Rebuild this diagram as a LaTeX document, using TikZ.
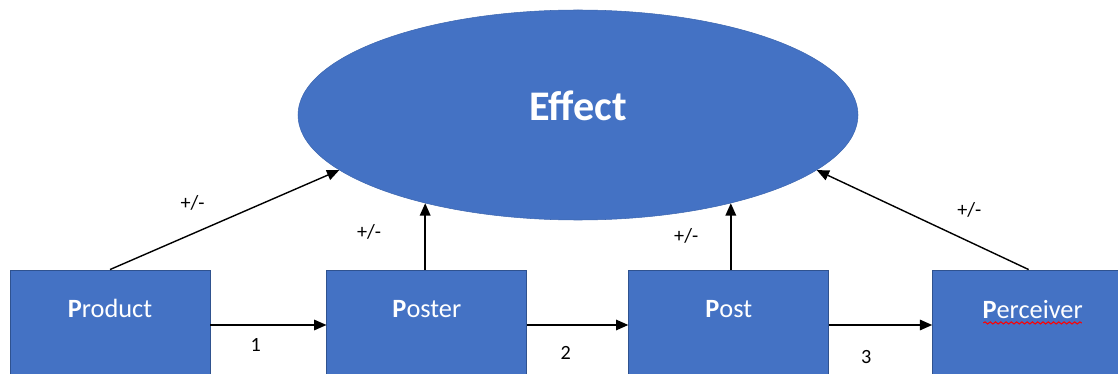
\documentclass[tikz,border=0pt]{standalone}
\usepackage{fontspec}
\setmainfont{Carlito}
\usepackage{tikz}
\usetikzlibrary{arrows.meta,positioning,shapes.geometric,decorations.pathmorphing}
\usepackage{xcolor}
\definecolor{officeblue}{HTML}{4472C4}
\definecolor{officeedge}{HTML}{2F528F}

\begin{document}
\begin{tikzpicture}[
	pbox/.style={rectangle,draw=officeedge,line width=0.5pt,fill=officeblue,minimum width=4cm,minimum height=2.2cm,inner sep=0pt},
	ptext/.style={text=white,font=\fontsize{15}{18}\selectfont},
	link/.style={-{Triangle[length=7pt,width=6pt]},line width=0.8pt},
	sign/.style={font=\fontsize{11.5}{14}\selectfont}
	]
	\useasboundingbox (0,0) rectangle (22.36,-7.48);

	\node[ellipse,draw=officeblue!90!black,line width=0.3pt,fill=officeblue,minimum width=11.2cm,minimum height=4.2cm,inner sep=0pt,text depth=11pt,text=white,font=\fontsize{24}{28}\selectfont\bfseries] (eff) at (11.56,-2.3) {Effect};

	\begin{scope}
		\node[pbox] (prod) at (2.2,-6.5) {};
		\node[pbox,right=2.32cm of prod] (poster) {};
		\node[pbox,right=2.02cm of poster] (post) {};
		\node[pbox,right=2.06cm of post] (perc) {};

		\node[ptext] (prodtxt) at ([yshift=-0.78cm]prod.north) {\textbf{P}roduct};
		\node[ptext] (postertxt) at ([yshift=-0.78cm]poster.north) {\textbf{P}oster};
		\node[ptext] (posttxt) at ([yshift=-0.78cm]post.north) {\textbf{P}ost};
		\node[ptext] (perctxt) at ([yshift=-0.8cm]perc.north) {\textbf{P}erceiver};
	\end{scope}

	% spell-check mark
	\draw[red,line width=0.6pt,decorate,decoration={snake,amplitude=0.6pt,segment length=3pt}] ([xshift=4pt,yshift=-2.5pt]perctxt.base west) -- ([xshift=-4pt,yshift=-2.5pt]perctxt.base east);

	\begin{scope}
		\draw[link] (prod) -- node[sign,pos=.39,below=0.14cm] {1} (poster);
		\draw[link] (poster) -- node[sign,pos=.38,below=0.3cm] {2} (post);
		\draw[link] (post) -- node[sign,pos=.36,below=0.38cm] {3} (perc);

		\draw[link] (prod.north) -- node[sign,pos=.36,above=0.33cm] {+/-} (eff.193.3);
		\draw[link] (eff.210.6 |- poster.north) -- node[sign,pos=.57,left=0.75cm] {+/-} (eff.210.6);
		\draw[link] (eff.330.1 |- post.north) -- node[sign,pos=.5,left=0.52cm] {+/-} (eff.330.1);
		\draw[link] ([xshift=-0.08cm]perc.north) -- node[sign,pos=.28,above=0.36cm] {+/-} (eff.347.4);
	\end{scope}
\end{tikzpicture}
\end{document}
